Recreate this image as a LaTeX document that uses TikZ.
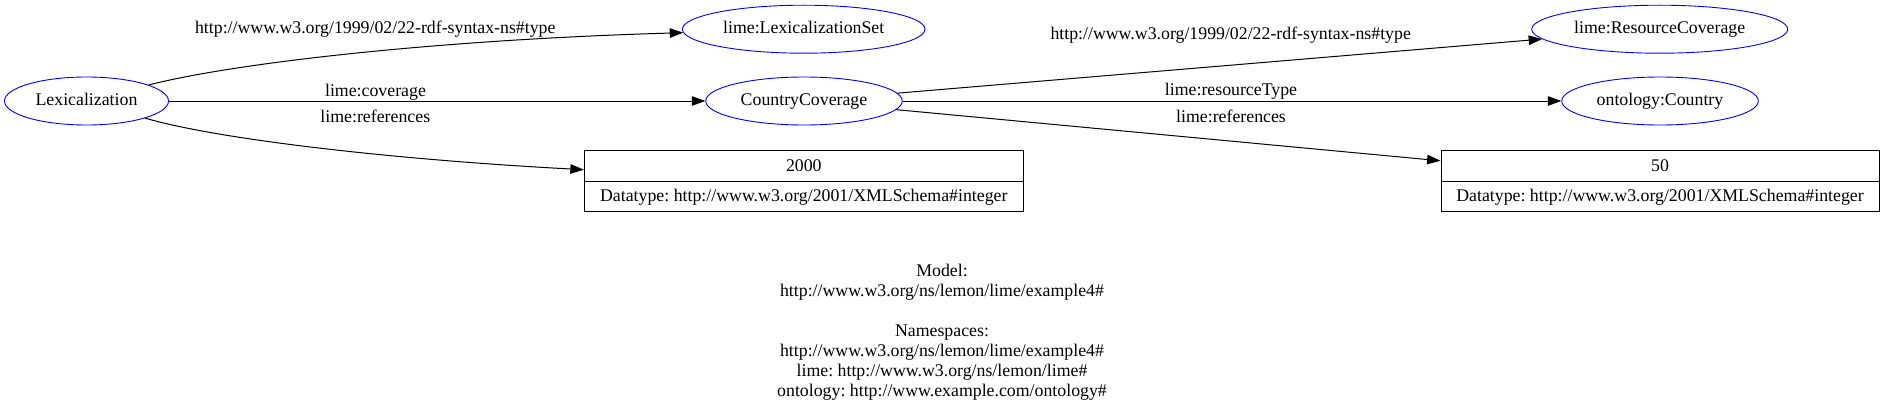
\documentclass[tikz,border=0pt]{standalone}
\usepackage{fontspec}
\setmainfont{Liberation Serif}
\usetikzlibrary{arrows.meta,shapes.geometric}
\frenchspacing
\begin{document}
\begin{tikzpicture}[x=1pt,y=-1pt,
  every node/.style={font=\fontsize{17.8}{20}\selectfont\frenchspacing, inner sep=0pt},
  res/.style={ellipse, draw=blue, line width=0.9pt, minimum height=48pt, text height=12.5pt, text depth=3.5pt},
  lit/.style={rectangle, draw=black, line width=0.9pt, minimum width=439pt, minimum height=61pt},
  lbl/.style={anchor=base},
  edge/.style={draw=black, line width=1pt, -{Triangle[length=13.5pt,width=9.5pt]}}
]
\useasboundingbox (0,0) rectangle (1885,412);
% resource nodes
\node[res, minimum width=164pt] (lex) at (86.5,101) {Lexicalization};
\node[res, minimum width=242.6pt] (lexset) at (803.7,29.2) {lime:LexicalizationSet};
\node[res, minimum width=196.6pt] (cc) at (804,101) {CountryCoverage};
\node[res, minimum width=256pt] (rc) at (1659.7,29.2) {lime:ResourceCoverage};
\node[res, minimum width=196.6pt] (oc) at (1660,101) {ontology:Country};
% literal boxes
\node[lit] (b2000) at (803.8,181.2) {};
\node[lit, minimum width=438pt] (b50) at (1660,181.2) {};
\draw[line width=0.9pt] (b2000.west) -- (b2000.east);
\draw[line width=0.9pt] (b50.west) -- (b50.east);
\node[lbl] (v2000) at (803.8,171) {2000};
\node[lbl] (d2000) at (803.8,201.5) {Datatype: http://www.w3.org/2001/XMLSchema\#integer};
\node[lbl] (v50) at (1660,171) {50};
\node[lbl] (d50) at (1660,201.5) {Datatype: http://www.w3.org/2001/XMLSchema\#integer};
% edges
\draw[edge] (lex) .. controls (230,64) and (430,40) .. (lexset);
\draw[edge] (lex) -- (cc);
\draw[edge] (lex) .. controls (220,140) and (400,160) .. (b2000);
\draw[edge] (cc) -- (rc);
\draw[edge] (cc) -- (oc);
\draw[edge] (cc) -- (b50);
% edge labels
\node[lbl] (e1) at (375.3,33.3) {http://www.w3.org/1999/02/22-rdf-syntax-ns\#type};
\node[lbl] (e2) at (375.5,96) {lime:coverage};
\node[lbl] (e3) at (375.3,122) {lime:references};
\node[lbl] (e4) at (1230.7,39.7) {http://www.w3.org/1999/02/22-rdf-syntax-ns\#type};
\node[lbl] (e5) at (1231,95.7) {lime:resourceType};
\node[lbl] (e6) at (1231,122) {lime:references};
% legend
\node[align=center, anchor=north] (legend) at (942,263.5) {Model:\\http://www.w3.org/ns/lemon/lime/example4\#\\[20pt]Namespaces:\\http://www.w3.org/ns/lemon/lime/example4\#\\lime: http://www.w3.org/ns/lemon/lime\#\\ontology: http://www.example.com/ontology\#};
\end{tikzpicture}
\end{document}
